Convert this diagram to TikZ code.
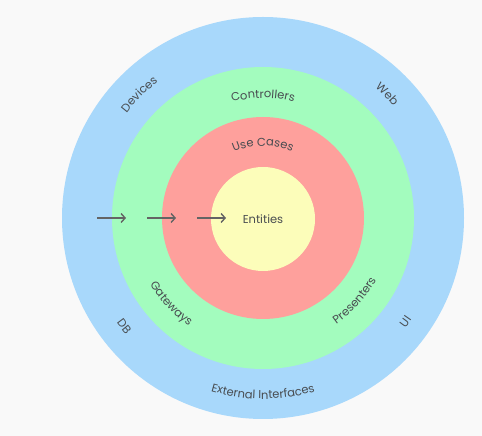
\documentclass[tikz,border=0pt]{standalone}
\usepackage{fontspec}
\setmainfont{Poppins}
\usepackage{tikz}
\usetikzlibrary{decorations.text,arrows.meta}
\definecolor{fondo}{RGB}{249,249,249}
\definecolor{azul}{RGB}{168,216,251}
\definecolor{verde}{RGB}{163,252,190}
\definecolor{rojo}{RGB}{254,160,156}
\definecolor{amarillo}{RGB}{252,253,186}
\definecolor{texto}{RGB}{72,76,80}
\definecolor{gris}{RGB}{100,100,100}

\tikzset{
  capa/.style={circle, inner sep=0pt, minimum size=#1},
  flecha/.style={draw=gris, line width=1.4pt,
    -{Straight Barb[length=4pt,width=9pt,line width=1.4pt]}},
  curvo/.style={decorate, decoration={text along path, text align=center,
    text={|\color{texto}\fontsize{11.5}{13}\selectfont|#1}}}
}

\begin{document}
\begin{tikzpicture}[x=1pt,y=1pt]
  % Fondo
  \fill[fondo] (0,0) rectangle (482,436);
  \useasboundingbox (0,0) rectangle (482,436);

  % Capas
  \node[capa=402, fill=azul] (externa) at (263,218) {};
  \node[capa=302, fill=verde] (adaptadores) at (263,218) {};
  \node[capa=202, fill=rojo] (casos) at (263,218) {};
  \node[capa=104, fill=amarillo, text=texto, font=\fontsize{11.5}{13}\selectfont]
    (entidades) at (263,217) {Entities};

  % Flechas hacia el centro
  \foreach \i/\x in {1/97,2/147,3/197} {
    \coordinate (ini\i) at (\x,218);
    \coordinate (fin\i) at (\x+29,218);
    \draw[flecha] (ini\i) -- (fin\i);
  }

  % Rotulos de arriba (sentido horario)
  \path[curvo={Devices}] (263,218) ++(165:172) arc[start angle=165, end angle=105, radius=172];
  \path[curvo={Web}] (263,218) ++(75:172) arc[start angle=75, end angle=15, radius=172];
  \path[curvo={Controllers}] (263,218) ++(125:120) arc[start angle=125, end angle=55, radius=120];
  \path[curvo={Use Cases}] (263,218) ++(135:72) arc[start angle=135, end angle=45, radius=72];

  % Rotulos de abajo (sentido antihorario)
  \path[curvo={DB}] (263,218) ++(198:180) arc[start angle=198, end angle=238, radius=180];
  \path[curvo={Gateways}] (263,218) ++(188:131) arc[start angle=188, end angle=258, radius=131];
  \path[curvo={External Interfaces}] (263,218) ++(235:181) arc[start angle=235, end angle=305, radius=181];
  \path[curvo={Presenters}] (263,218) ++(283:129) arc[start angle=283, end angle=353, radius=129];
  \path[curvo={UI}] (263,218) ++(304:180) arc[start angle=304, end angle=344, radius=180];
\end{tikzpicture}
\end{document}
